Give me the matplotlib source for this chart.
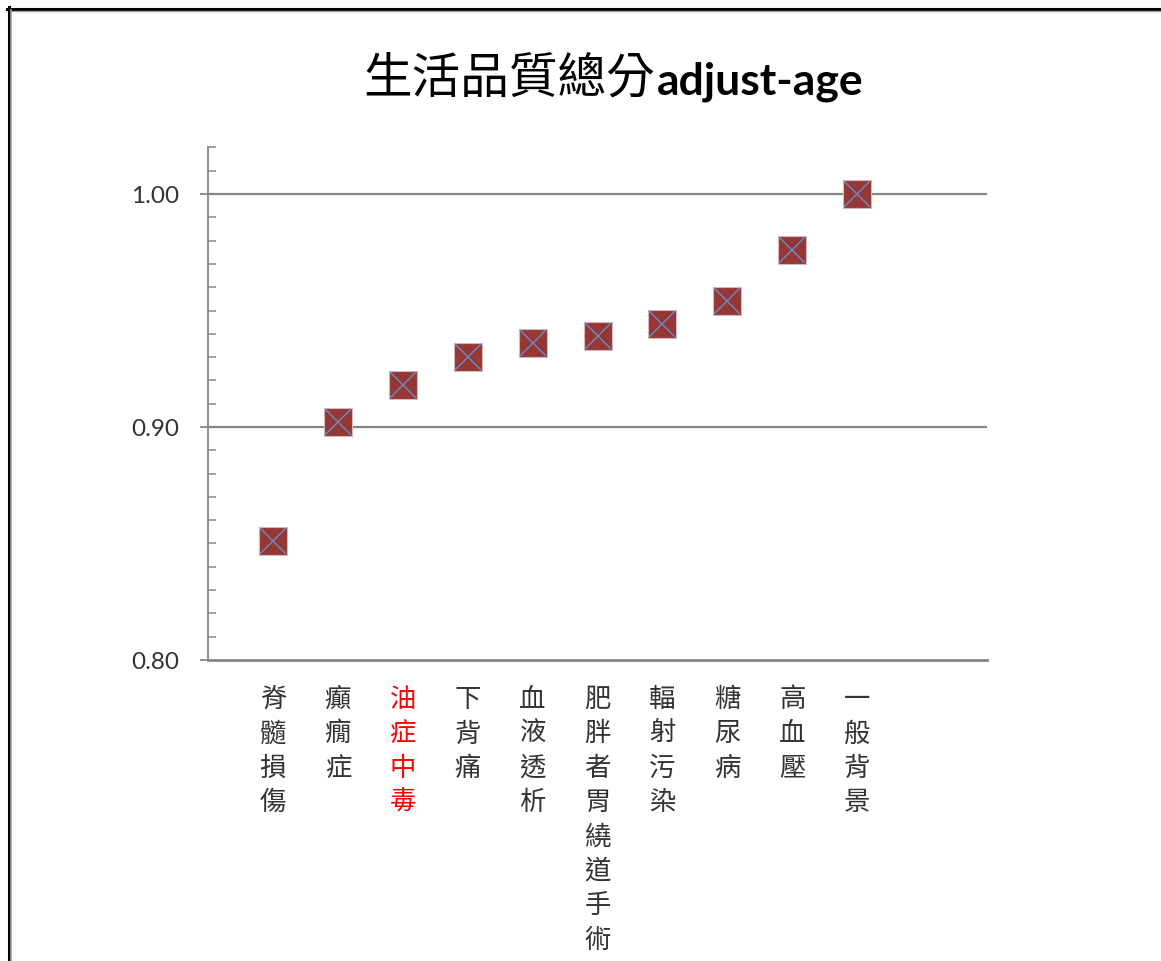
import numpy as np
import matplotlib
matplotlib.use("Agg")
import matplotlib.pyplot as plt
from matplotlib.lines import Line2D
from matplotlib.ticker import MultipleLocator, FixedLocator
import matplotlib.transforms as mtransforms

# data
categories = ["脊髓損傷", "癲癇症", "油症中毒", "下背痛", "血液透析",
              "肥胖者胃繞道手術", "輻射污染", "糖尿病", "高血壓", "一般背景"]
scores = [0.851, 0.902, 0.918, 0.930, 0.936, 0.939, 0.944, 0.954, 0.976, 1.000]
highlight = "油症中毒"
y_ticks = [0.80, 0.90, 1.00]
y_tick_labels = ["0.80", "0.90", "1.00"]

W, H = 1161, 962
GRAY = "#868686"
TXT = "#333333"

fig = plt.figure(figsize=(W / 100, H / 100), dpi=100)
fig.patch.set_facecolor("white")

def fx(px):
    return px / W

def fy(py):
    return 1 - py / H

# plot area
ax = fig.add_axes([fx(208), fy(661), fx(987) - fx(208), fy(148.4) - fy(661)])
xs = np.arange(1, len(categories) + 1)

ax.set_xlim(0, 12)
ax.set_ylim(0.80, 1.02)

for s in ["top", "right"]:
    ax.spines[s].set_visible(False)
ax.spines["left"].set_color(GRAY)
ax.spines["left"].set_linewidth(1.3)
ax.spines["bottom"].set_color(GRAY)
ax.spines["bottom"].set_linewidth(2.0)

# gridlines at major ticks (skip the baseline)
for yv in y_ticks[1:]:
    ax.axhline(yv, color=GRAY, lw=1.6, zorder=1)

ax.yaxis.set_major_locator(FixedLocator(y_ticks))
ax.set_yticklabels(y_tick_labels, fontsize=17.5, color=TXT, family="Lato")
ax.yaxis.set_minor_locator(MultipleLocator(0.01))
ax.tick_params(axis="y", which="major", direction="out", length=6, width=1.3,
               color=GRAY, pad=15)
ax.tick_params(axis="y", which="minor", direction="in", length=6, width=1.1,
               color=GRAY)
ax.set_xticks([])

# square markers with an x overlay
ax.plot(xs, scores, ls="none", marker="s", ms=19.5, mfc="#953735",
        mec="#d9b8b8", mew=0.8, zorder=3, clip_on=False)
ax.plot(xs, scores, ls="none", marker="x", ms=19, mec="#6f86b8",
        mew=1.1, zorder=4, clip_on=False)

# vertical category labels, one character per line
trans = mtransforms.blended_transform_factory(ax.transData, fig.transFigure)
for x, name in zip(xs, categories):
    ax.text(x, fy(686), "\n".join(name), transform=trans, ha="center", va="top",
            fontsize=19, linespacing=1.35, family="Noto Sans CJK TC",
            color="red" if name == highlight else TXT)

# title: CJK part + bold latin part
fig.text(fx(655), fy(80), "生活品質總分", ha="right", va="center",
         fontsize=35, family="Noto Sans CJK TC", color="black")
fig.text(fx(657), fy(82), "adjust-age", ha="left", va="center",
         fontsize=32, family="Lato", weight="bold", color="black")

# frame around the chart
fig.add_artist(Line2D([fx(7), 1], [fy(9.5), fy(9.5)], color="black", lw=2.2))
fig.add_artist(Line2D([fx(8.5), fx(8.5)], [fy(8), 0], color="black", lw=2.2))
fig.add_artist(Line2D([fx(11), 1], [fy(11.5), fy(11.5)], color="#a0a0a0", lw=1.0))
fig.add_artist(Line2D([fx(11), fx(11)], [fy(11), 0], color="#a0a0a0", lw=1.2))

fig.savefig("out.png", dpi=100)
